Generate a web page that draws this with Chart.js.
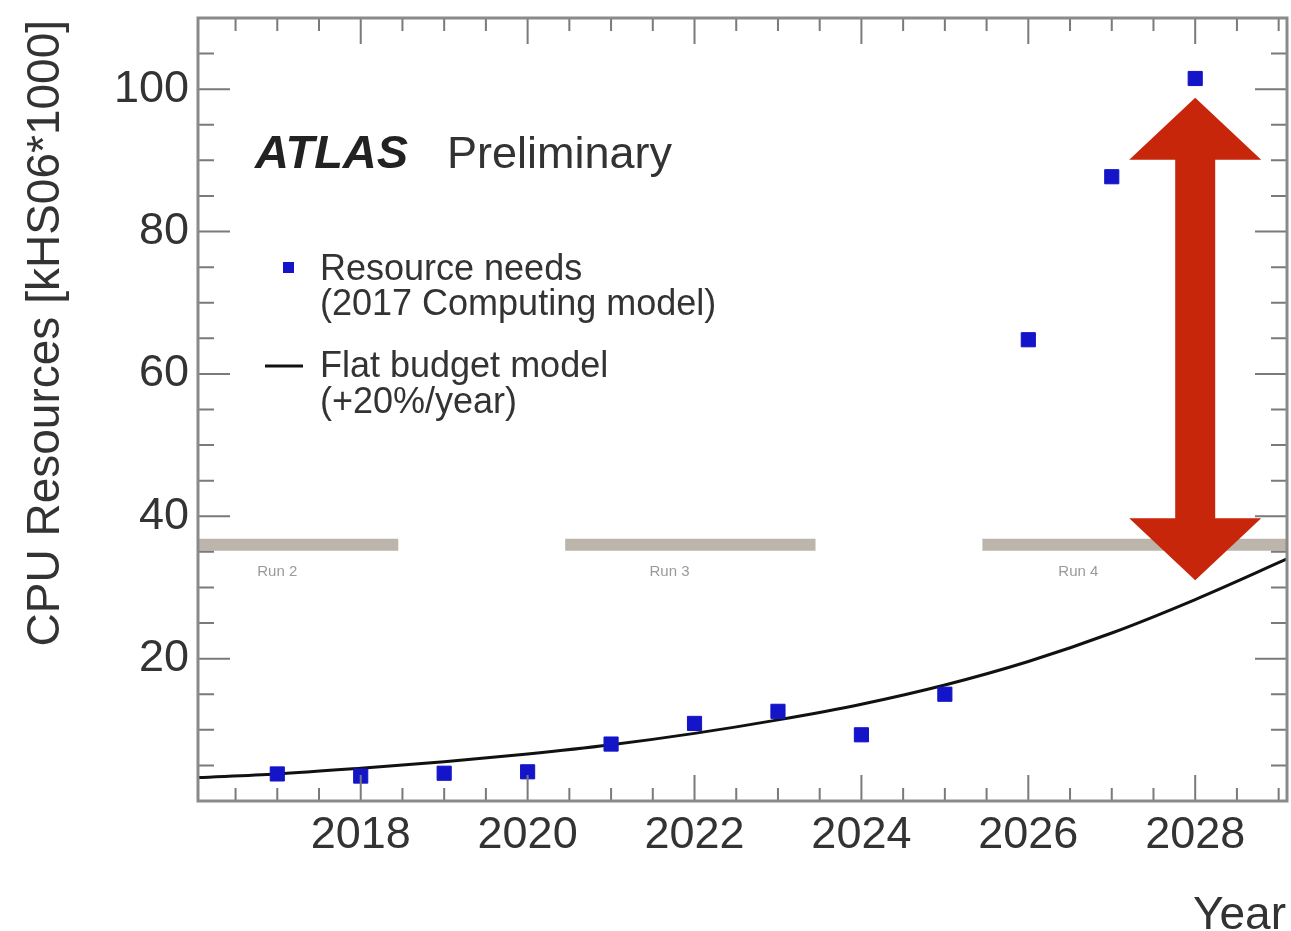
<!DOCTYPE html>
<html>
<head>
<meta charset="utf-8">
<script src="https://cdn.jsdelivr.net/npm/chart.js@4/dist/chart.umd.min.js"></script>
<style>
  html, body { margin: 0; padding: 0; background: #ffffff; }
  #wrap { width: 1291px; height: 931px; position: relative; }
</style>
</head>
<body>
<div id="wrap"><canvas id="cpuChart"></canvas></div>
<script>
// values
const years = [2017, 2018, 2019, 2020, 2021, 2022, 2023, 2024, 2025, 2026, 2027, 2028];
const needs = [3.8, 3.5, 3.9, 4.1, 8.0, 10.9, 12.6, 9.3, 15.0, 64.8, 87.7, 101.5];

const budgetYears = [2016.05, 2017, 2018, 2019, 2020, 2021, 2022, 2023, 2024, 2025, 2026, 2027, 2028, 2029.1];
const budget = [3.3, 3.8, 4.6, 5.5, 6.6, 7.9, 9.5, 11.4, 13.6, 16.3, 19.6, 23.6, 28.3, 34.0];

const runLabels = ["Run 2", "Run 3", "Run 4"];
const runStart = [2016.05, 2020.45, 2025.45];
const runEnd = [2018.45, 2023.45, 2029.1];
const runLevel = 36;
const runLabelX = [2017.0, 2021.7, 2026.6];

const xTicks = [2018, 2020, 2022, 2024, 2026, 2028];
const yTicks = [20, 40, 60, 80, 100];

// red double arrow (data units)
const arrowX = 2028;
const arrowTop = 98.8;
const arrowBottom = 31;

const FONT = "'Liberation Sans', Arial, Helvetica, sans-serif";
const TEXT = "#333333";

const runDatasets = runLabels.map((name, i) => ({
  label: name,
  type: "line",
  data: [{ x: runStart[i], y: runLevel }, { x: runEnd[i], y: runLevel }],
  borderColor: "#bcb5ab",
  borderWidth: 12,
  borderCapStyle: "butt",
  pointRadius: 0,
  order: 3,
}));

// frame, inside ticks, labels, legend, arrow
const decor = {
  id: "decor",
  afterDatasetsDraw(chart) {
    const { ctx, chartArea: a } = chart;
    const xs = chart.scales.x, ys = chart.scales.y;
    ctx.save();

    // run labels
    ctx.fillStyle = "#9a9a9a";
    ctx.font = "15px " + FONT;
    ctx.textAlign = "center";
    ctx.textBaseline = "middle";
    runLabels.forEach((t, i) => {
      ctx.fillText(t, xs.getPixelForValue(runLabelX[i]), ys.getPixelForValue(runLevel) + 27);
    });

    // ticks inside the frame
    ctx.strokeStyle = "#7a7a7a";
    ctx.lineWidth = 2;
    ctx.beginPath();
    for (let v = 5; v < ys.max; v += 5) {
      const py = ys.getPixelForValue(v);
      const len = v % 20 === 0 ? 32 : 16;
      ctx.moveTo(a.left, py); ctx.lineTo(a.left + len, py);
      ctx.moveTo(a.right, py); ctx.lineTo(a.right - len, py);
    }
    for (let v = 2016.5; v < xs.max; v += 0.5) {
      const px = xs.getPixelForValue(v);
      const len = v % 2 === 0 ? 26 : 13;
      ctx.moveTo(px, a.bottom); ctx.lineTo(px, a.bottom - len);
      ctx.moveTo(px, a.top); ctx.lineTo(px, a.top + len);
    }
    ctx.stroke();

    // frame
    ctx.strokeStyle = "#8a8a8a";
    ctx.lineWidth = 3;
    ctx.strokeRect(a.left, a.top, a.right - a.left, a.bottom - a.top);

    // ATLAS Preliminary
    ctx.textAlign = "left";
    ctx.textBaseline = "alphabetic";
    ctx.fillStyle = "#222222";
    ctx.font = "italic bold 47px " + FONT;
    ctx.fillText("ATLAS", 255, 168);
    ctx.fillStyle = TEXT;
    ctx.font = "45px " + FONT;
    ctx.fillText("Preliminary", 447, 168);

    // legend
    ctx.font = "36px " + FONT;
    ctx.fillStyle = TEXT;
    ctx.fillText("Resource needs", 320, 280);
    ctx.fillText("(2017 Computing model)", 320, 315);
    ctx.fillText("Flat budget model", 320, 377);
    ctx.fillText("(+20%/year)", 320, 413);
    ctx.fillStyle = "#1414c8";
    ctx.fillRect(283, 262, 11, 11);
    ctx.strokeStyle = "#111111";
    ctx.lineWidth = 3;
    ctx.beginPath();
    ctx.moveTo(265, 366); ctx.lineTo(303, 366);
    ctx.stroke();

    ctx.restore();
  },
  afterDraw(chart) {
    const { ctx } = chart;
    const xs = chart.scales.x, ys = chart.scales.y;
    const cx = xs.getPixelForValue(arrowX);
    const t = ys.getPixelForValue(arrowTop);
    const b = ys.getPixelForValue(arrowBottom);
    const headW = 66, headH = 62, shaftW = 20;
    ctx.save();
    ctx.fillStyle = "#c8260a";
    ctx.beginPath();
    ctx.moveTo(cx, t);
    ctx.lineTo(cx + headW, t + headH);
    ctx.lineTo(cx + shaftW, t + headH);
    ctx.lineTo(cx + shaftW, b - headH);
    ctx.lineTo(cx + headW, b - headH);
    ctx.lineTo(cx, b);
    ctx.lineTo(cx - headW, b - headH);
    ctx.lineTo(cx - shaftW, b - headH);
    ctx.lineTo(cx - shaftW, t + headH);
    ctx.lineTo(cx - headW, t + headH);
    ctx.closePath();
    ctx.fill();

    // axis titles
    ctx.fillStyle = TEXT;
    ctx.font = "46px " + FONT;
    ctx.textAlign = "right";
    ctx.textBaseline = "alphabetic";
    ctx.fillText("Year", 1286, 929);
    ctx.translate(59, 20);
    ctx.rotate(-Math.PI / 2);
    ctx.fillText("CPU Resources [kHS06*1000]", 0, 0);
    ctx.restore();
  },
};

const ctx = document.getElementById("cpuChart").getContext("2d");
new Chart(ctx, {
  type: "scatter",
  data: {
    datasets: [
      {
        label: "Resource needs (2017 Computing model)",
        data: years.map((yr, i) => ({ x: yr, y: needs[i] })),
        backgroundColor: "#1414c8",
        borderColor: "#1414c8",
        pointStyle: "rect",
        pointRadius: 10,
        pointHoverRadius: 10,
        order: 1,
      },
      {
        label: "Flat budget model (+20%/year)",
        type: "line",
        data: budgetYears.map((yr, i) => ({ x: yr, y: budget[i] })),
        borderColor: "#111111",
        borderWidth: 3,
        cubicInterpolationMode: "monotone",
        pointRadius: 0,
        order: 2,
      },
      ...runDatasets,
    ],
  },
  options: {
    responsive: true,
    maintainAspectRatio: false,
    devicePixelRatio: 1,
    animation: false,
    layout: { autoPadding: false, padding: { top: 18, right: 4, left: 0, bottom: 0 } },
    plugins: {
      legend: { display: false },
      tooltip: { enabled: false },
    },
    scales: {
      x: {
        type: "linear",
        min: 2016.05,
        max: 2029.1,
        grid: { display: false },
        border: { display: false },
        ticks: {
          font: { family: FONT, size: 45 },
          color: TEXT,
          padding: 0,
          maxRotation: 0,
          callback: (v) => String(v),
        },
        afterBuildTicks: (s) => { s.ticks = xTicks.map((v) => ({ value: v })); },
        afterFit: (s) => { s.height = 130; s.paddingLeft = 0; s.paddingRight = 0; },
      },
      y: {
        min: 0,
        max: 110,
        grid: { display: false },
        border: { display: false },
        ticks: {
          font: { family: FONT, size: 45 },
          color: TEXT,
          padding: 1,
          callback: (v) => String(v),
        },
        afterBuildTicks: (s) => { s.ticks = yTicks.map((v) => ({ value: v })); },
        afterFit: (s) => { s.width = 198; s.paddingTop = 0; s.paddingBottom = 0; },
      },
    },
  },
  plugins: [decor],
});
</script>
</body>
</html>
